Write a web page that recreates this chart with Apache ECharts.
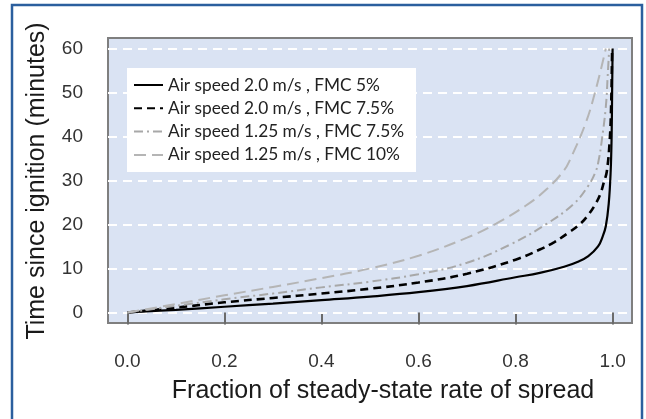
<!DOCTYPE html>
<html>
<head>
<meta charset="utf-8">
<script src="https://cdn.jsdelivr.net/npm/echarts@6/dist/echarts.min.js"></script>
<style>
html,body{margin:0;padding:0;background:#fff;}
#chart{width:646px;height:419px;}
</style>
</head>
<body>
<div id="chart"></div>
<script>
// ---- data ----
const seriesNames = [
  'Air speed 2.0 m/s , FMC 5%',
  'Air speed 2.0 m/s , FMC 7.5%',
  'Air speed 1.25 m/s , FMC 7.5%',
  'Air speed 1.25 m/s , FMC 10%'
];
const xTicks = [0, 0.2, 0.4, 0.6, 0.8, 1.0];
const yTicks = [0, 10, 20, 30, 40, 50, 60];

const s1Frac = [0, 0.1, 0.2, 0.3, 0.4, 0.5, 0.6, 0.7, 0.8, 0.85, 0.9, 0.93, 0.95, 0.97, 0.98, 0.986, 0.992, 0.996, 0.998, 0.999, 1.0];
const s1Time = [0, 0.6, 1.3, 2.0, 2.8, 3.6, 4.6, 6.0, 8.0, 9.0, 10.4, 11.6, 12.8, 15.0, 17.4, 19.6, 24.7, 32, 40, 50, 60];

const s2Frac = [0, 0.1, 0.2, 0.3, 0.4, 0.5, 0.6, 0.7, 0.8, 0.85, 0.88, 0.91, 0.934, 0.95, 0.965, 0.975, 0.982, 0.988, 0.994, 0.997, 0.999];
const s2Time = [0, 1.1, 2.3, 3.3, 4.3, 5.4, 6.8, 8.8, 12.0, 14.3, 16.0, 18.2, 20.2, 22.2, 24.7, 27, 29.6, 32, 39, 47, 60];

const s3Frac = [0, 0.1, 0.2, 0.3, 0.4, 0.5, 0.6, 0.7, 0.79, 0.865, 0.92, 0.948, 0.965, 0.972, 0.977, 0.986, 0.99, 0.993];
const s3Time = [0, 1.5, 3.0, 4.3, 5.7, 7.0, 8.7, 11.3, 15.5, 20.2, 24.7, 28.5, 32.0, 35.0, 38.5, 46.7, 54, 60];

const s4Frac = [0, 0.1, 0.2, 0.3, 0.4, 0.5, 0.6, 0.7, 0.76, 0.82, 0.865, 0.9, 0.913, 0.944, 0.965, 0.986];
const s4Time = [0, 1.9, 3.9, 5.8, 7.8, 10.0, 12.9, 17.0, 20.2, 24.2, 28.1, 32.3, 34.9, 42.9, 50.5, 60];

const zip = (a, b) => a.map((v, i) => [v, b[i]]);

const chart = echarts.init(document.getElementById('chart'), null, {renderer: 'canvas'});

const lineBase = {type: 'line', symbol: 'none', smooth: 0.4, z: 5};

const option = {
  animation: false,
  backgroundColor: '#ffffff',
  grid: {
    left: 108, top: 38, width: 524, height: 285,
    show: true, backgroundColor: '#dae3f3', borderColor: '#7f7f7f', borderWidth: 2
  },
  legend: {
    orient: 'vertical',
    left: 127, top: 68, z: 10,
    backgroundColor: '#ffffff',
    padding: [8.5, 12, 8.6, 6],
    itemWidth: 29, itemHeight: 17, itemGap: 6.3,
    itemStyle: {opacity: 0},
    textStyle: {fontFamily: 'Lato', fontSize: 17.3, color: '#222'},
    data: seriesNames
  },
  xAxis: {
    type: 'value', min: -0.04, max: 1.04,
    axisLine: {show: false},
    axisTick: {show: true, customValues: xTicks, length: 12, lineStyle: {color: '#6b6b6b', width: 2}},
    axisLabel: {customValues: xTicks, margin: 29, fontFamily: 'Liberation Sans', fontSize: 19, color: '#333',
      formatter: v => v.toFixed(1)},
    splitLine: {show: false}
  },
  yAxis: {
    type: 'value', min: -2.4, max: 62.4,
    axisLine: {show: false},
    axisTick: {show: false},
    axisLabel: {customValues: yTicks, margin: 25, fontFamily: 'Liberation Sans', fontSize: 19, color: '#333'},
    splitLine: {show: false}
  },
  graphic: [
    {type: 'rect', shape: {x: 12, y: 5, width: 630, height: 430}, style: {fill: 'none', stroke: '#2b5f9e', lineWidth: 2.5}, z: 100},
    {type: 'text', x: 383, y: 391, style: {text: 'Fraction of steady-state rate of spread', font: '25px "Liberation Sans"', fill: '#1a1a1a', textAlign: 'center', textVerticalAlign: 'middle'}},
    {type: 'text', x: 37, y: 181, rotation: Math.PI / 2, style: {text: 'Time since ignition (minutes)', font: '25px "Liberation Sans"', fill: '#1a1a1a', textAlign: 'center', textVerticalAlign: 'middle'}}
  ],
  series: [
    {
      type: 'line', name: 'grid', data: [], silent: true, z: 1,
      markLine: {
        silent: true, symbol: 'none', label: {show: false}, z: 1,
        lineStyle: {color: '#ffffff', type: [9, 6], width: 2.2},
        data: yTicks.map(v => ({yAxis: v}))
      }
    },
    Object.assign({}, lineBase, {name: seriesNames[0], data: zip(s1Frac, s1Time),
      lineStyle: {color: '#000000', width: 2.2, type: 'solid'}, itemStyle: {color: '#000000'}}),
    Object.assign({}, lineBase, {name: seriesNames[1], data: zip(s2Frac, s2Time),
      lineStyle: {color: '#000000', width: 2.6, type: [8, 5]}, itemStyle: {color: '#000000'}}),
    Object.assign({}, lineBase, {name: seriesNames[2], data: zip(s3Frac, s3Time),
      lineStyle: {color: '#a8a8a8', width: 2, type: [9, 4, 2, 4]}, itemStyle: {color: '#a8a8a8'}}),
    Object.assign({}, lineBase, {name: seriesNames[3], data: zip(s4Frac, s4Time),
      lineStyle: {color: '#b5b5b5', width: 2, type: [12, 6]}, itemStyle: {color: '#b5b5b5'}})
  ]
};
chart.setOption(option);
</script>
</body>
</html>
